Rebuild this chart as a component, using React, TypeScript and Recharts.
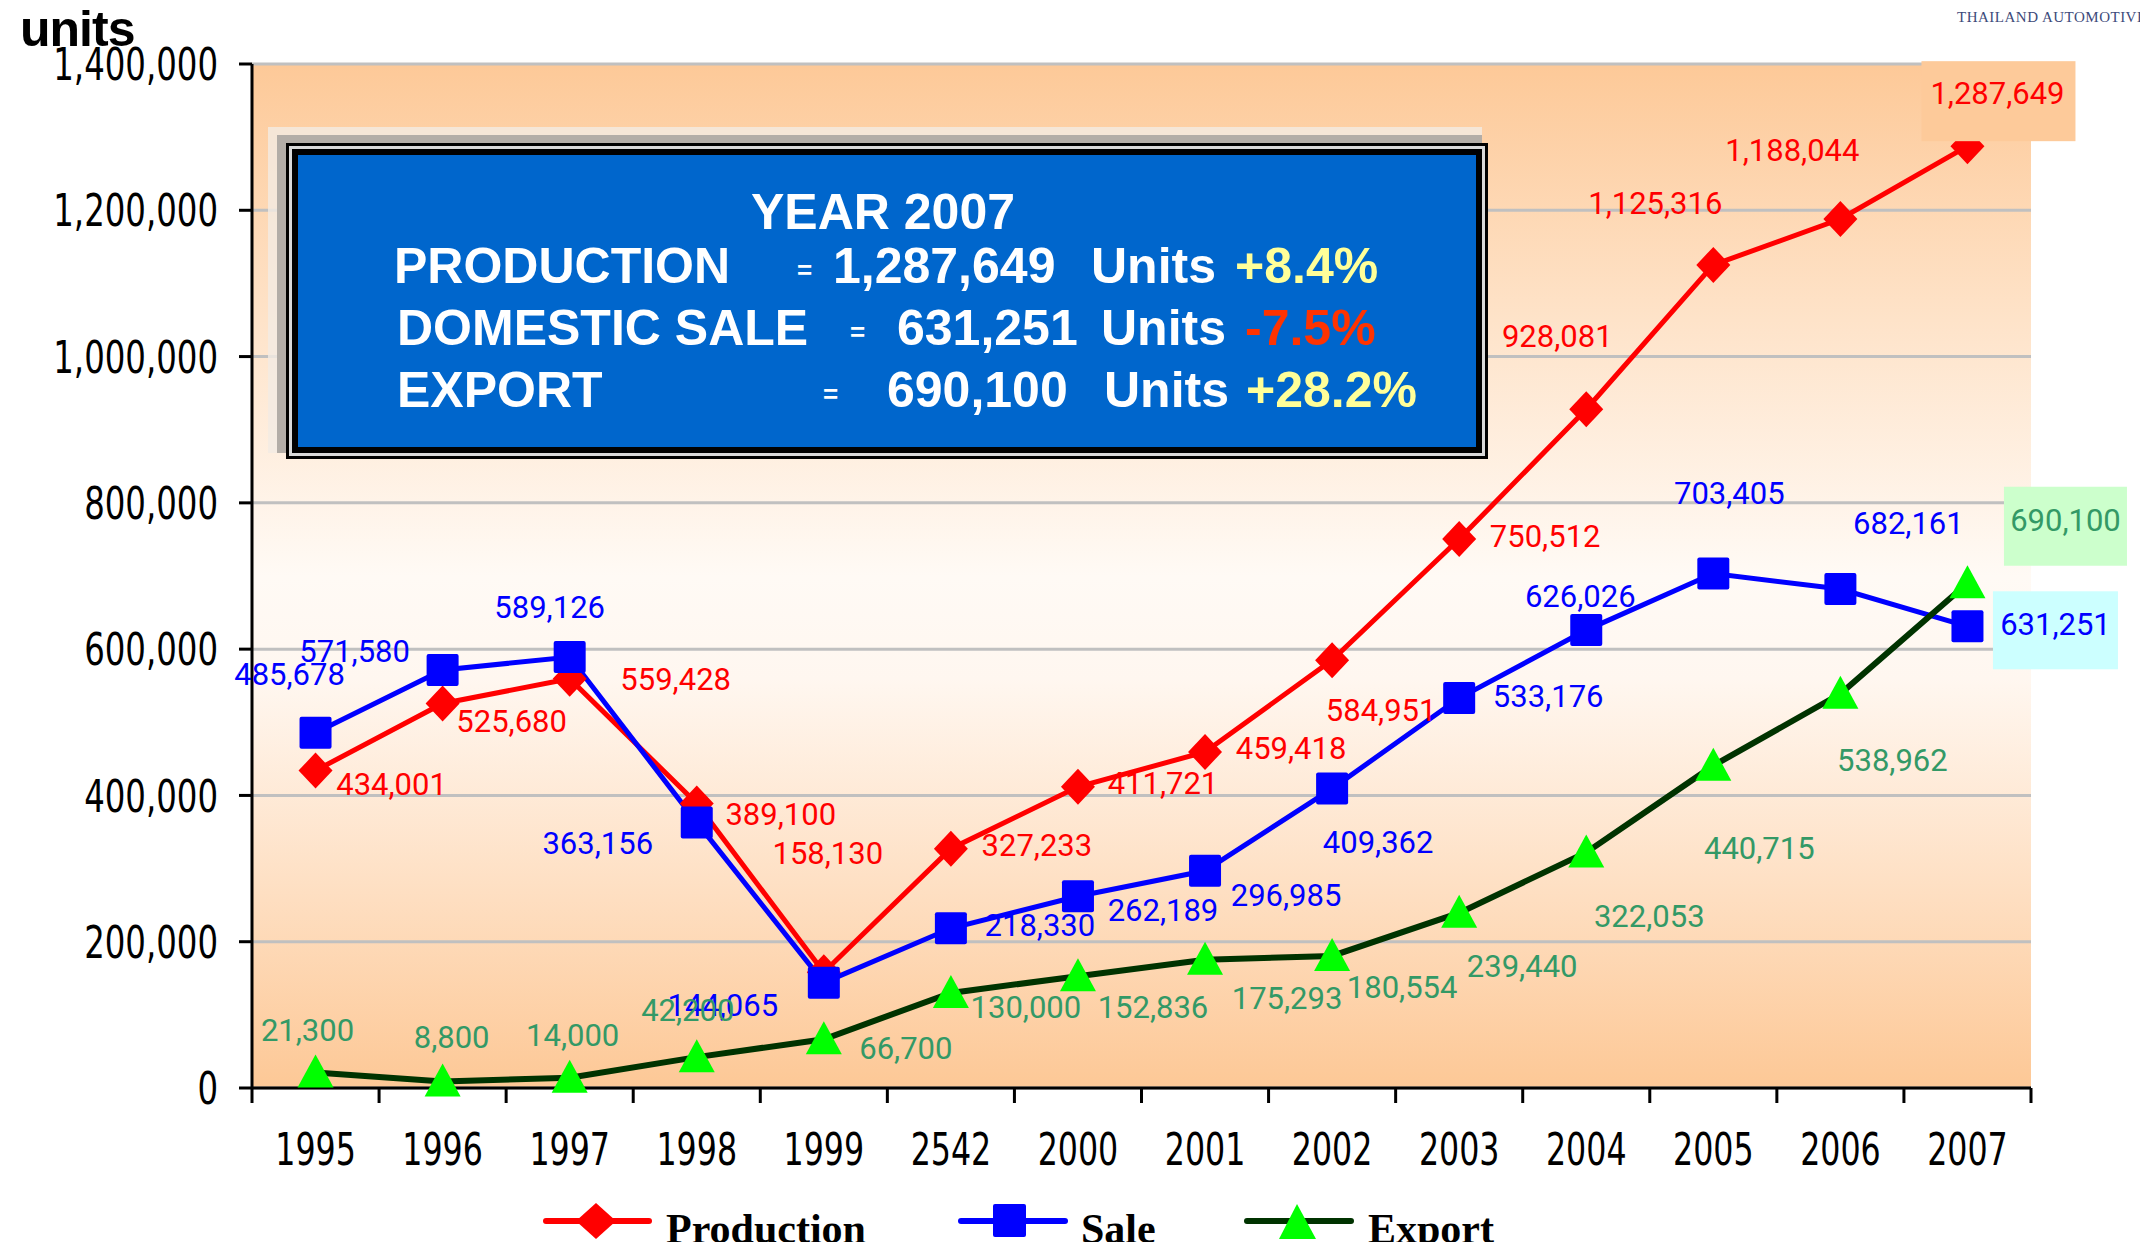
import React from 'react';
import { LineChart, Line, XAxis, YAxis, CartesianGrid, LabelList } from 'recharts';

const years = ['1995', '1996', '1997', '1998', '1999', '2542', '2000', '2001', '2002', '2003', '2004', '2005', '2006', '2007'];
const production = [434001, 525680, 559428, 389100, 158130, 327233, 411721, 459418, 584951, 750512, 928081, 1125316, 1188044, 1287649];
const sale = [485678, 571580, 589126, 363156, 144065, 218330, 262189, 296985, 409362, 533176, 626026, 703405, 682161, 631251];
const exportUnits = [21300, 8800, 14000, 42200, 66700, 130000, 152836, 175293, 180554, 239440, 322053, 440715, 538962, 690100];
const yTicks = [0, 200000, 400000, 600000, 800000, 1000000, 1200000, 1400000];

// label placement (offset from the point, px)
const prodLabelPos = [[76, 13], [69, 17], [106, 0], [84, 10], [4, -119], [86, -4], [85, -4], [86, -4], [49, 50], [86, -3], [-29, -73], [-58, -62], [-48, -69], [30, -53]];
const saleLabelPos = [[-26, -59], [-88, -19], [-20, -50], [-99, 20], [-101, 22], [89, -3], [85, 14], [81, 24], [46, 53], [89, -2], [-6, -34], [16, -81], [68, -66], [88, -2]];
const exportLabelPos = [[-8, -43], [9, -45], [3, -43], [-9, -47], [82, 9], [75, 14], [75, 31], [82, 38], [70, 31], [63, 53], [63, 63], [46, 82], [52, 66], [98, -63]];

const data = years.map((year, i) => ({
  year,
  production: production[i],
  sale: sale[i],
  exportUnits: exportUnits[i],
}));

const W = 2140;
const H = 1242;
const PLOT_LEFT = 252;
const PLOT_RIGHT = 2031;
const BAND = (PLOT_RIGHT - PLOT_LEFT) / years.length;

const NARROW = "'DejaVu Sans Condensed', 'DejaVu Sans', sans-serif";
const ARIAL = "'Liberation Sans', Arial, sans-serif";
const SERIF = "'Liberation Serif', 'Times New Roman', serif";
const LABEL_FONT = 'Roboto, sans-serif';

const fmt = (v: number) => v.toLocaleString('en-US');

function Diamond(props: any) {
  const { cx, cy, index } = props;
  if (cx == null || cy == null) return <g key={`d-${index}`} />;
  return <path key={`d-${index}`} d={`M${cx},${cy - 18} L${cx + 17},${cy} L${cx},${cy + 18} L${cx - 17},${cy} Z`} fill="#ff0000" />;
}

function Square(props: any) {
  const { cx, cy, index } = props;
  if (cx == null || cy == null) return <g key={`s-${index}`} />;
  return <rect key={`s-${index}`} x={cx - 16} y={cy - 16} width={32} height={32} rx={2} fill="#0000ff" />;
}

function Triangle(props: any) {
  const { cx, cy, index } = props;
  if (cx == null || cy == null) return <g key={`t-${index}`} />;
  return <path key={`t-${index}`} d={`M${cx},${cy - 18} L${cx + 18},${cy + 15} L${cx - 18},${cy + 15} Z`} fill="#00ff00" />;
}

type Box = { index: number; dx: number; dy: number; w: number; h: number; fill: string };

function makeLabel(color: string, pos: number[][], box?: Box) {
  return (props: any) => {
    const vb = props.viewBox || {};
    const x = props.x ?? vb.x;
    const y = props.y ?? vb.y;
    const index = props.index;
    if (x == null || y == null || pos[index] == null) return null;
    const cx = x + pos[index][0];
    const cy = y + pos[index][1];
    return (
      <g key={`lbl-${color}-${index}`}>
        {box && box.index === index && (
          <rect x={cx + box.dx - box.w / 2} y={cy + box.dy - box.h / 2} width={box.w} height={box.h} fill={box.fill} />
        )}
        <text x={cx} y={cy} dy="0.36em" textAnchor="middle" fill={color} fontSize={31} fontFamily={LABEL_FONT}>
          {fmt(Number(props.value))}
        </text>
      </g>
    );
  };
}

function YearTick(props: any) {
  const { x, y, payload, index } = props;
  const last = index === years.length - 1;
  return (
    <g>
      <line x1={x - BAND / 2} x2={x - BAND / 2} y1={y} y2={y + 15} stroke="#000" strokeWidth={3} />
      {last && <line x1={x + BAND / 2} x2={x + BAND / 2} y1={y} y2={y + 15} stroke="#000" strokeWidth={3} />}
      <text transform={`translate(${x},${y + 77}) scale(0.8,1)`} textAnchor="middle" fill="#000" fontSize={44} fontFamily={NARROW}>
        {payload.value}
      </text>
    </g>
  );
}

function ValueTick(props: any) {
  const { x, y, payload } = props;
  return (
    <text transform={`translate(${x},${y}) scale(0.8,1)`} dy="0.36em" textAnchor="end" fill="#000" fontSize={45} fontFamily={NARROW}>
      {fmt(payload.value)}
    </text>
  );
}

function Overlay() {
  const box = { fontFamily: ARIAL, fontWeight: 700 as const, fontSize: 50, fill: '#fff' };
  const eq = { fontFamily: ARIAL, fontWeight: 700 as const, fontSize: 26, fill: '#fff' };
  return (
    <svg width={W} height={H} style={{ position: 'absolute', left: 0, top: 0 }}>
      <text x={20} y={46} fontFamily={ARIAL} fontWeight={700} fontSize={50} fill="#000" letterSpacing={-1}>units</text>
      <text x={1957} y={22} fontFamily={SERIF} fontSize={15} fill="#3d4a7a" letterSpacing={0.5}>THAILAND AUTOMOTIVE</text>

      {/* summary box */}
      <rect x={268} y={127} width={1214} height={326} fill="#f3ebe3" opacity={0.8} />
      <rect x={277} y={135} width={1205} height={318} fill="#b3ada7" />
      <rect x={286} y={143} width={1202} height={316} fill="#000" />
      <rect x={289} y={146} width={1196} height={310} fill="#d9d9d9" />
      <rect x={292} y={149} width={1190} height={304} fill="#000" />
      <rect x={298} y={155} width={1178} height={292} fill="#0066cc" />

      <text x={751} y={229} {...box}>YEAR 2007</text>
      <text x={394} y={283} {...box}>PRODUCTION</text>
      <text x={797} y={279} {...eq}>=</text>
      <text x={833} y={283} {...box}>1,287,649</text>
      <text x={1091} y={283} {...box}>Units</text>
      <text x={1235} y={283} {...box} fill="#ffff99">+8.4%</text>

      <text x={397} y={345} {...box}>DOMESTIC SALE</text>
      <text x={850} y={341} {...eq}>=</text>
      <text x={897} y={345} {...box}>631,251</text>
      <text x={1101} y={345} {...box}>Units</text>
      <text x={1245} y={345} {...box} fill="#ff3300">-7.5%</text>

      <text x={397} y={407} {...box}>EXPORT</text>
      <text x={823} y={403} {...eq}>=</text>
      <text x={887} y={407} {...box}>690,100</text>
      <text x={1104} y={407} {...box}>Units</text>
      <text x={1246} y={407} {...box} fill="#ffff99">+28.2%</text>

      {/* legend */}
      <line x1={546} x2={649} y1={1221} y2={1221} stroke="#ff0000" strokeWidth={6} strokeLinecap="round" />
      <path d="M596,1203 L616,1221 L596,1239 L576,1221 Z" fill="#ff0000" />
      <text x={666} y={1243} fontFamily={SERIF} fontWeight={700} fontSize={42} fill="#000">Production</text>

      <line x1={961} x2={1065} y1={1221} y2={1221} stroke="#0000ff" strokeWidth={6} strokeLinecap="round" />
      <rect x={993} y={1204} width={33} height={33} rx={2} fill="#0000ff" />
      <text x={1081} y={1243} fontFamily={SERIF} fontWeight={700} fontSize={42} fill="#000">Sale</text>

      <line x1={1247} x2={1351} y1={1221} y2={1221} stroke="#003300" strokeWidth={6} strokeLinecap="round" />
      <path d="M1297,1204 L1316,1239 L1279,1239 Z" fill="#00ff00" />
      <text x={1368} y={1243} fontFamily={SERIF} fontWeight={700} fontSize={42} fill="#000">Export</text>
    </svg>
  );
}

export default function App() {
  return (
    <div style={{ position: 'absolute', left: 0, top: 0, width: W, height: H, background: '#fff', overflow: 'hidden' }}>
      <LineChart width={W} height={H} data={data} margin={{ top: 64, right: W - PLOT_RIGHT, left: 12, bottom: 54 }}>
        <defs>
          <linearGradient id="plotBg" x1="0" y1="0" x2="0" y2="1">
            <stop offset="0" stopColor="#fdc998" />
            <stop offset="0.25" stopColor="#fee3c9" />
            <stop offset="0.5" stopColor="#fffaf5" />
            <stop offset="0.6" stopColor="#fff7f0" />
            <stop offset="0.8" stopColor="#fee0c4" />
            <stop offset="1" stopColor="#fdc896" />
          </linearGradient>
        </defs>
        <CartesianGrid vertical={false} stroke="#c0c0c0" strokeWidth={3} fill="url(#plotBg)" fillOpacity={1} />
        <XAxis
          dataKey="year"
          interval={0}
          height={100}
          padding={{ left: BAND / 2, right: BAND / 2 }}
          tickLine={false}
          tickSize={0}
          tickMargin={0}
          axisLine={{ stroke: '#000', strokeWidth: 3 }}
          tick={<YearTick />}
        />
        <YAxis
          width={240}
          domain={[0, 1400000]}
          ticks={yTicks}
          interval={0}
          tickSize={13}
          tickMargin={21}
          axisLine={{ stroke: '#000', strokeWidth: 3 }}
          tickLine={{ stroke: '#000', strokeWidth: 3 }}
          tick={<ValueTick />}
        />
        <Line dataKey="production" stroke="#ff0000" strokeWidth={5} dot={(p: any) => <Diamond key={`d-${p.index}`} {...p} />} isAnimationActive={false}>
          <LabelList dataKey="production" content={makeLabel('#ff0000', prodLabelPos, { index: 13, dx: 1, dy: 8, w: 154, h: 80, fill: '#fdca9a' })} />
        </Line>
        <Line dataKey="sale" stroke="#0000ff" strokeWidth={5} dot={(p: any) => <Square key={`s-${p.index}`} {...p} />} isAnimationActive={false}>
          <LabelList dataKey="sale" content={makeLabel('#0000ff', saleLabelPos, { index: 13, dx: 0, dy: 6, w: 125, h: 78, fill: '#ccffff' })} />
        </Line>
        <Line dataKey="exportUnits" stroke="#003300" strokeWidth={6} dot={(p: any) => <Triangle key={`t-${p.index}`} {...p} />} isAnimationActive={false}>
          <LabelList dataKey="exportUnits" content={makeLabel('#339966', exportLabelPos, { index: 13, dx: 0, dy: 6, w: 123, h: 79, fill: '#ccffcc' })} />
        </Line>
      </LineChart>
      <Overlay />
    </div>
  );
}
